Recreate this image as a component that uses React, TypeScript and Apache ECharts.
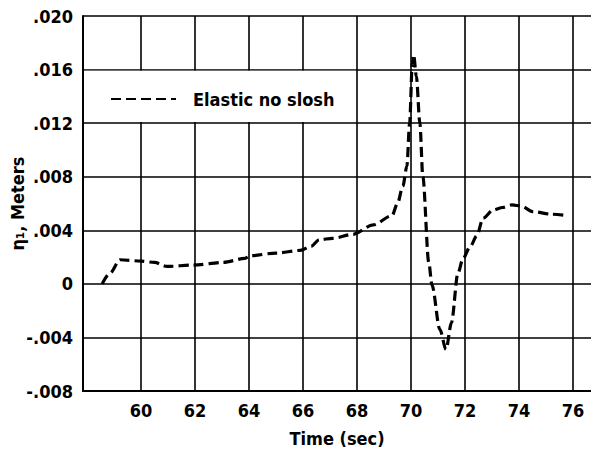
import React, { useEffect, useRef } from "react";
import * as echarts from "echarts";

const times = [58.56, 58.85, 59.22, 60.0, 60.5, 60.96, 61.93, 63.04, 63.85, 64.04, 65.0, 65.9, 66.3, 66.6, 67.1, 67.85, 68.6, 69.3, 69.5, 69.7, 69.85, 69.95, 70.05, 70.1, 70.2, 70.33, 70.44, 70.66, 70.78, 71.07, 71.3, 71.5, 71.74, 71.93, 72.2, 72.44, 72.67, 73.04, 73.4, 73.74, 74.1, 74.5, 75.2, 75.8];
const eta = [0, 0.0008, 0.0018, 0.0017, 0.0016, 0.0013, 0.0014, 0.0016, 0.0019, 0.0021, 0.0023, 0.0025, 0.0028, 0.0033, 0.0034, 0.0037, 0.0044, 0.0051, 0.006, 0.0073, 0.0088, 0.012, 0.0165, 0.0171, 0.0155, 0.012, 0.008, 0.0016, -0.0001, -0.0034, -0.0049, -0.0029, 0.0008, 0.0019, 0.0028, 0.0036, 0.0049, 0.0055, 0.0057, 0.0059, 0.0058, 0.0054, 0.0052, 0.0051];
const xTickValues = [60, 62, 64, 66, 68, 70, 72, 74, 76];
const seriesName = "Elastic no slosh";
const xName = "Time (sec)";
const yName = "η₁, Meters";

const FONT = "'Liberation Sans Narrow', 'DejaVu Sans Condensed', 'DejaVu Sans', sans-serif";

export default function App() {
  const ref = useRef<HTMLDivElement>(null);
  useEffect(() => {
    if (!ref.current) return;
    const chart = echarts.init(ref.current, undefined, { renderer: "svg" });
    const xMin = 57.85;
    const xMax = 76.67;
    chart.setOption({
      animation: false,
      backgroundColor: "#fff",
      grid: { left: 83, right: 0, top: 16, bottom: 61, containLabel: false, outerBoundsMode: "none" },
      legend: {
        left: 105,
        top: 85,
        itemWidth: 65,
        itemHeight: 14,
        data: [seriesName],
        selectedMode: false,
        itemStyle: { opacity: 0 },
        textStyle: { fontFamily: FONT, fontWeight: "bold", fontSize: 18, color: "#000", padding: [0, 0, 0, 12] },
        z: 5,
      },
      xAxis: {
        type: "value",
        min: xMin,
        max: xMax,
        name: xName,
        nameLocation: "middle",
        nameGap: 38,
        nameMoveOverlap: false,
        nameTextStyle: { fontFamily: FONT, fontWeight: "bold", fontSize: 18, color: "#000" },
        axisLine: { onZero: false, lineStyle: { color: "#000", width: 2 } },
        axisTick: { show: false, customValues: xTickValues },
        axisLabel: {
          customValues: xTickValues,
          fontFamily: FONT,
          fontWeight: "bold",
          fontSize: 18,
          color: "#000",
          margin: 10,
        },
        splitLine: { show: true, lineStyle: { color: "#000", width: 1.6 } },
      },
      yAxis: {
        type: "value",
        min: -0.008,
        max: 0.02,
        interval: 0.004,
        name: yName,
        nameLocation: "middle",
        nameGap: 57,
        nameMoveOverlap: false,
        nameTextStyle: { fontFamily: FONT, fontWeight: "bold", fontSize: 18, color: "#000" },
        axisLine: { show: true, lineStyle: { color: "#000", width: 2 } },
        axisTick: { show: false },
        axisLabel: {
          fontFamily: FONT,
          fontWeight: "bold",
          fontSize: 18,
          color: "#000",
          margin: 10,
          formatter: (v: number) => {
            const m = Math.round(v * 1000);
            if (m === 0) return "0";
            const s = String(Math.abs(m)).padStart(3, "0");
            return (m < 0 ? "-" : "") + "." + s;
          },
        },
        splitLine: { show: true, lineStyle: { color: "#000", width: 1.6 } },
      },
      series: [
        {
          name: seriesName,
          type: "line",
          data: times.map((t, i) => [t, eta[i]]),
          symbol: "none",
          smooth: 0.3,
          smoothMonotone: "x",
          lineStyle: { color: "#000", width: 3.2, type: [10, 5] },
          itemStyle: { color: "#000" },
          z: 3,
        },
      ],
    });
    const p1 = chart.convertToPixel({ gridIndex: 0 }, [xMin, 0.016]) as number[];
    const p2 = chart.convertToPixel({ gridIndex: 0 }, [68, 0.012]) as number[];
    chart.setOption({
      graphic: [
        {
          type: "rect",
          z: 1,
          shape: {
            x: p1[0] + 1.5,
            y: p1[1] + 1.2,
            width: p2[0] - p1[0] - 2.5,
            height: p2[1] - p1[1] - 2.4,
          },
          style: { fill: "#fff" },
        },
      ],
    });
    return () => chart.dispose();
  }, []);
  return (
    <div
      ref={ref}
      style={{ position: "absolute", left: 0, top: 0, width: 591, height: 452 }}
    />
  );
}
